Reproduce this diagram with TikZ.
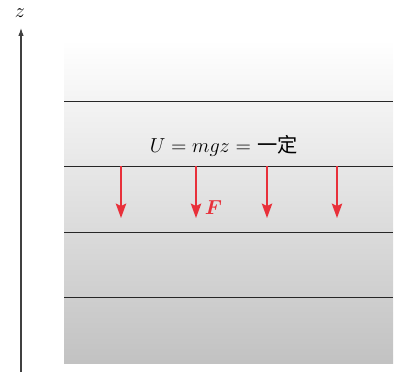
\documentclass[tikz,border=0pt]{standalone}
\usepackage{fontspec}
\newfontfamily\cjk{Noto Sans CJK SC}
\usepackage{bm}
\usetikzlibrary{arrows.meta, positioning}

\definecolor{forcered}{HTML}{E8303A}

\begin{document}
\begin{tikzpicture}[
    layer/.style={draw=black!85, line width=0.6pt},
    force/.style={-{Stealth[length=3.6mm, width=2.6mm, inset=0.6mm]}, forcered, line width=1pt},
    axis/.style={-{Latex[length=2mm, width=1.4mm]}, black!75, line width=0.8pt}
  ]
  \useasboundingbox (0, 0) rectangle (10.025, 9.35);

  % field region
  \shade[top color=white, bottom color=black!24] (1.6, 0.275) rectangle (9.825, 8.35);
  \draw[layer] (1.6, 6.825) -- (9.825, 6.825);
  \draw[layer] (1.6, 5.2) -- (9.825, 5.2);
  \draw[layer] (1.6, 3.55) -- (9.825, 3.55);
  \draw[layer] (1.6, 1.925) -- (9.825, 1.925);

  % z axis
  \coordinate (zbot) at (0.525, 0.05);
  \coordinate (ztop) at (0.525, 8.65);
  \draw[axis] (zbot) -- (ztop);
  \node[font=\Large] (zlabel) at (0.5, 9.02) {$z$};

  \node[font=\Large] (potential) at (5.6, 5.7) {$U = mgz =$ {\cjk 一定}};

  % forces
  \coordinate (f1s) at (3.025, 5.2);  \coordinate (f1e) at (3.025, 3.9);
  \coordinate (f2s) at (4.9, 5.2);    \coordinate (f2e) at (4.9, 3.9);
  \coordinate (f3s) at (6.675, 5.2);  \coordinate (f3e) at (6.675, 3.9);
  \coordinate (f4s) at (8.425, 5.2);  \coordinate (f4e) at (8.425, 3.9);
  \draw[force] (f1s) -- (f1e);
  \draw[force] (f2s) -- (f2e);
  \draw[force] (f3s) -- (f3e);
  \draw[force] (f4s) -- (f4e);
  \node[font=\Large, text=forcered, right=0.1cm of f2e, yshift=0.25cm] (flabel) {$\bm{F}$};
\end{tikzpicture}
\end{document}
